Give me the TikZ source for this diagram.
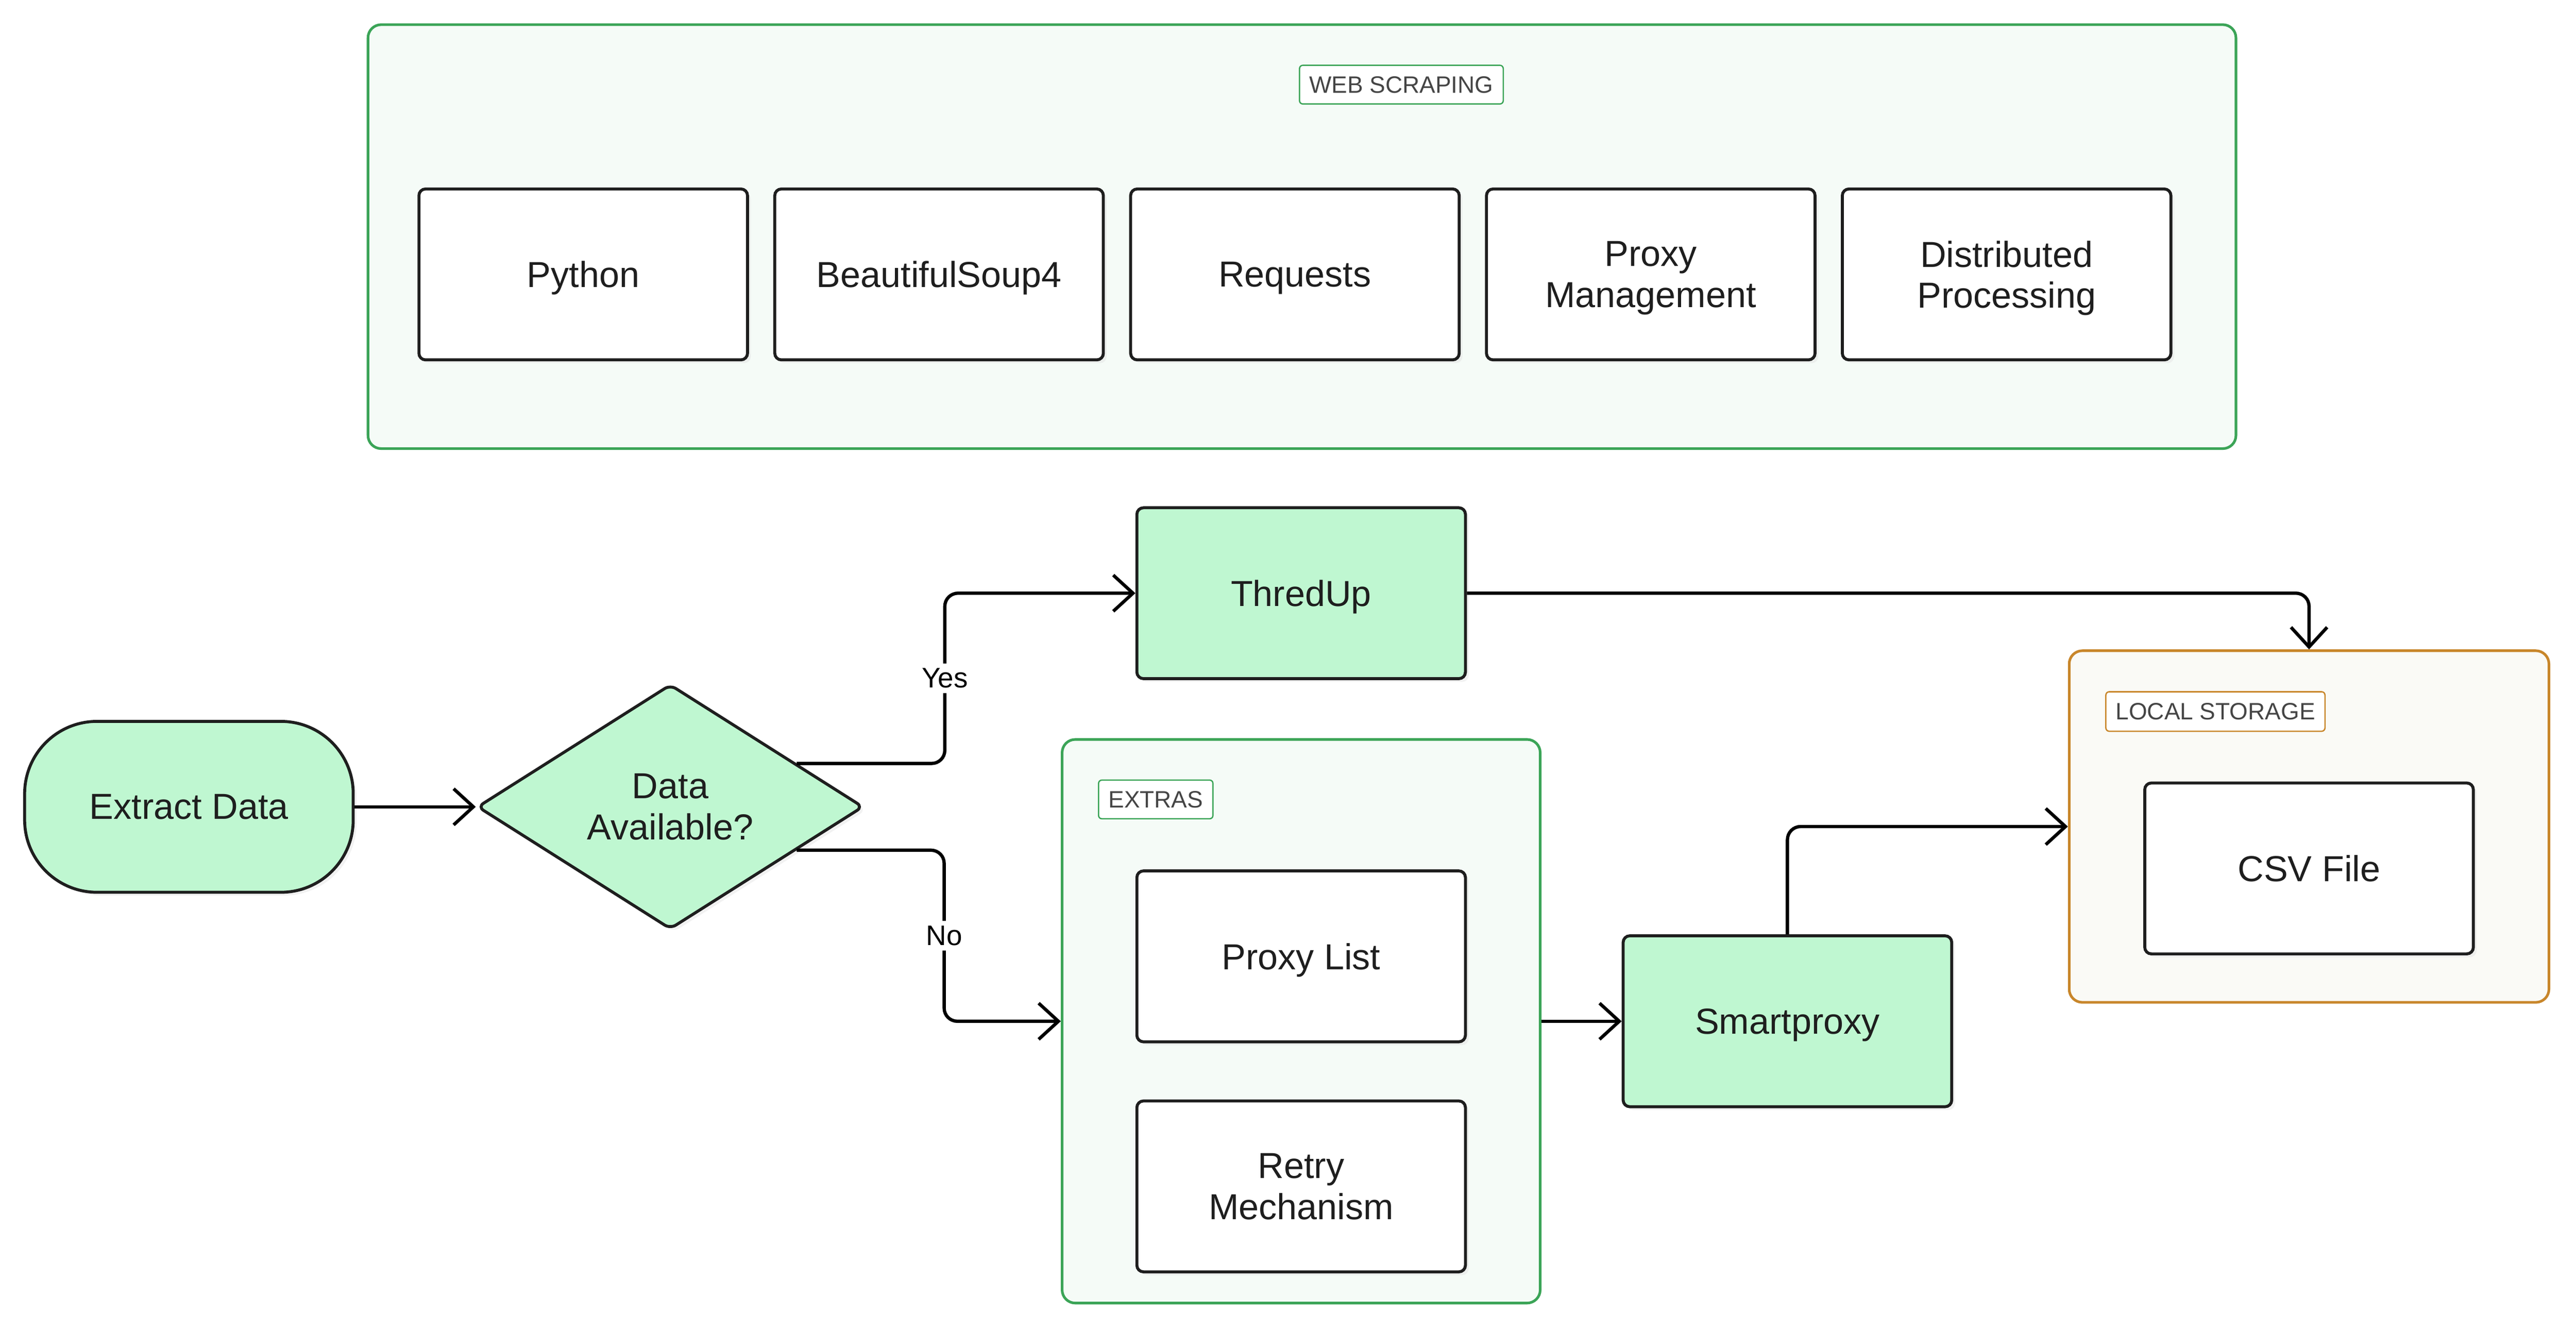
\documentclass[tikz,border=0pt]{standalone}
\usepackage{fontspec}
\setmainfont{Liberation Sans}
\usepackage{xcolor}
\usepackage{tikz}
\usetikzlibrary{calc, arrows.meta, shapes, shadows, positioning}
\definecolor{mint}{HTML}{BFF7D1}
\definecolor{groupfill}{HTML}{F5FBF7}
\definecolor{groupline}{HTML}{3BA457}
\definecolor{storefill}{HTML}{FAFAF6}
\definecolor{storeline}{HTML}{C8862A}
\definecolor{inktext}{HTML}{1E1E1E}
\definecolor{tagtext}{HTML}{454545}
\tikzset{
    boxnode/.style = {draw=inktext, rectangle, fill=white, rounded corners=2pt, line width=0.9pt,
      minimum width=100pt, minimum height=52pt, node distance=0em, text=inktext, text depth=0pt,
      font=\fontsize{11}{12.5}\selectfont, drop shadow={shadow xshift=1pt, shadow yshift=-1pt, fill=black!10}},
    greennode/.style = {boxnode, fill=mint},
    startnode/.style = {greennode, rounded corners=22pt},
    decisionnode/.style = {draw=inktext, diamond, fill=mint, line width=0.9pt, rounded corners=2pt,
      inner sep=0pt, aspect=1.58, minimum width=117.5pt, minimum height=74.5pt, node distance=0em,
      text=inktext, font=\fontsize{11}{12.5}\selectfont,
      drop shadow={shadow xshift=1pt, shadow yshift=-1pt, fill=black!10}},
    groupnode/.style = {draw=groupline, fill=groupfill, rectangle, rounded corners=4pt, line width=0.8pt,
      node distance=0em},
    storenode/.style = {groupnode, draw=storeline, fill=storefill},
    tagnode/.style = {draw=groupline, fill=white, rectangle, rounded corners=1pt, line width=0.4pt,
      inner xsep=3pt, minimum height=11.5pt, node distance=0em, text=tagtext,
      font=\fontsize{7.2}{8}\selectfont},
    storetagnode/.style = {tagnode, draw=storeline, minimum height=12pt},
    edgelabel/.style = {fill=white, inner sep=1.5pt, font=\fontsize{8.6}{9}\selectfont},
    connect/.style = {black, line width=1pt, rounded corners=4pt, -{Straight Barb[length=6pt, width=11pt]}},
    every text node part/.style={align=center}
}

\begin{document}
\begin{tikzpicture}[node distance=0em]
    \useasboundingbox (0,0) rectangle (784pt,-404.6pt);

    % web scraping stack
    \node [groupnode, name=Web, minimum width=568.5pt, minimum height=129pt] at (396.25pt,-72pt) {};
    \node [tagnode, name=WebTag, below of=Web, xshift=30.25pt, yshift=46.25pt] {WEB SCRAPING};
    \node [boxnode, name=Python, below of=Web, xshift=-218.75pt, yshift=-11.5pt] {Python};
    \node [boxnode, name=Soup, right of=Python, xshift=108.3pt] {BeautifulSoup4};
    \node [boxnode, name=Requests, right of=Soup, xshift=108.3pt] {Requests};
    \node [boxnode, name=ProxyMgmt, right of=Requests, xshift=108.3pt] {Proxy\\Management};
    \node [boxnode, name=Distributed, right of=ProxyMgmt, xshift=108.3pt] {Distributed\\Processing};

    % flow
    \node [startnode, name=Extract, below of=Web, xshift=-338.75pt, yshift=-173.5pt] {Extract Data};
    \node [decisionnode, name=Decision, right of=Extract, xshift=146.5pt] {Data\\Available?};
    \node [greennode, name=ThredUp, right of=Decision, xshift=192pt, yshift=65pt] {ThredUp};

    \node [groupnode, name=Extras, below of=ThredUp, yshift=-130.25pt, minimum width=145.5pt,
    	minimum height=171.5pt] {};
    \node [tagnode, name=ExtrasTag, below of=Extras, xshift=-44.25pt, yshift=67.5pt] {EXTRAS};
    \node [boxnode, name=ProxyList, below of=Extras, yshift=19.75pt] {Proxy List};
    \node [boxnode, name=Retry, below of=ProxyList, yshift=-70pt] {Retry\\Mechanism};

    \node [greennode, name=Smartproxy, right of=Extras, xshift=148pt] {Smartproxy};

    \node [storenode, name=Storage, right of=Smartproxy, xshift=158.75pt, yshift=59.25pt,
    	minimum width=146pt, minimum height=107pt] {};
    \node [storetagnode, name=StorageTag, below of=Storage, xshift=-28.5pt, yshift=35pt] {LOCAL STORAGE};
    \node [boxnode, name=CSV, below of=Storage, yshift=-12.75pt] {CSV File};

    \draw [connect] (Extract) -- (Decision.west);
    \draw [connect] ($(Decision.east)!0.35!(Decision.north)$) -| ([xshift=-58pt]ThredUp.west)
    	node[edgelabel, pos=0.75] {Yes} -- (ThredUp.west);
    \draw [connect] ($(Decision.east)!0.35!(Decision.south)$) -| ([xshift=-35.5pt]Extras.west)
    	node[edgelabel, pos=0.75] {No} -- (Extras.west);
    \draw [connect] (Extras.east) -- (Smartproxy.west);
    \draw [connect] (Smartproxy.north) |- (Storage.west);
    \draw [connect] (ThredUp.east) -| (Storage.north);
\end{tikzpicture}
\end{document}
